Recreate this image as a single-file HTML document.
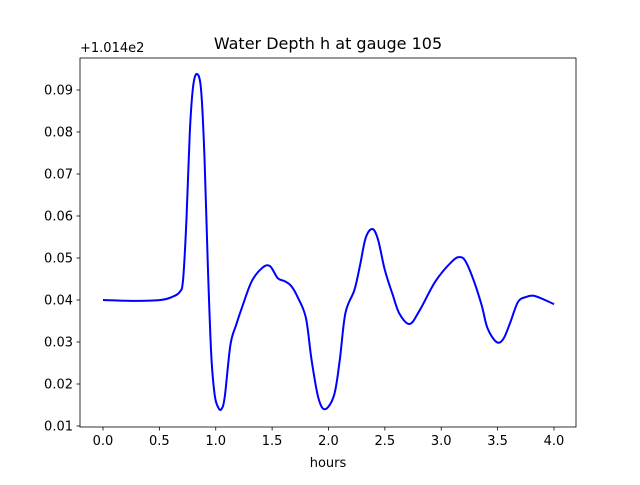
<!DOCTYPE html>
<html><head><meta charset="utf-8"><style>
body{margin:0;background:#fff}
svg text{font-family:"DejaVu Sans","Liberation Sans",sans-serif;font-size:13px;fill:#000}
</style></head><body>
<svg id="chart" width="640" height="480" xmlns="http://www.w3.org/2000/svg">
<rect width="640" height="480" fill="#fff"/>
<text x="328" y="49" text-anchor="middle" style="font-size:16px">Water Depth h at gauge 105</text>
<text x="80" y="52">+1.014e2</text>
<text x="328" y="467" text-anchor="middle">hours</text>
<g id="ticks"></g>
<path id="line" fill="none" stroke="#0000ff" stroke-width="2"/>
<rect x="80" y="58" width="496" height="369" fill="none" stroke="#000" stroke-width="0.8"/>
</svg>
<script>
const xTicks=[0,0.5,1,1.5,2,2.5,3,3.5,4];
const xTickLabels=["0.0","0.5","1.0","1.5","2.0","2.5","3.0","3.5","4.0"];
const yTicks=[0.01,0.02,0.03,0.04,0.05,0.06,0.07,0.08,0.09];
const yTickLabels=["0.01","0.02","0.03","0.04","0.05","0.06","0.07","0.08","0.09"];
const hours=[0,0.28,0.51,0.61,0.68,0.71,0.74,0.77,0.80,0.835,0.87,0.90,0.93,0.96,0.99,1.02,1.05,1.08,1.13,1.18,1.24,1.32,1.41,1.48,1.55,1.61,1.67,1.73,1.80,1.85,1.91,1.97,2.05,2.10,2.15,2.23,2.28,2.33,2.39,2.44,2.50,2.57,2.63,2.72,2.81,2.95,3.10,3.17,3.22,3.29,3.36,3.41,3.49,3.55,3.61,3.68,3.75,3.82,3.92,4.0];
const depth=[0.0400,0.0398,0.0400,0.0407,0.0419,0.0448,0.0590,0.0800,0.0910,0.0938,0.0900,0.0740,0.0480,0.0270,0.0175,0.0145,0.0140,0.0170,0.0293,0.0340,0.0388,0.0445,0.0476,0.0481,0.0452,0.0445,0.0433,0.0405,0.0357,0.0257,0.0167,0.0140,0.0174,0.0257,0.0369,0.0424,0.0483,0.0548,0.0569,0.0543,0.0471,0.0412,0.0367,0.0343,0.0376,0.0445,0.0493,0.0502,0.0490,0.0445,0.0386,0.0333,0.0300,0.0307,0.0345,0.0395,0.0407,0.0410,0.0400,0.0390];
const X=h=>103+h*112.75, Y=v=>426-(v-0.01)*4200;
const g=document.getElementById('ticks'), NS='http://www.w3.org/2000/svg';
xTicks.forEach((t,i)=>{
 const l=document.createElementNS(NS,'line');l.setAttribute('x1',X(t));l.setAttribute('x2',X(t));l.setAttribute('y1',427);l.setAttribute('y2',430.5);l.setAttribute('stroke','#000');l.setAttribute('stroke-width','0.8');
 
 
 g.appendChild(l);
 const tx=document.createElementNS(NS,'text');tx.setAttribute('x',X(t));tx.setAttribute('y',445);tx.setAttribute('text-anchor','middle');tx.textContent=xTickLabels[i];
 
 
 g.appendChild(tx);
});
yTicks.forEach((t,i)=>{
 const l=document.createElementNS(NS,'line');l.setAttribute('x1',76.5);l.setAttribute('x2',80);l.setAttribute('y1',Y(t));l.setAttribute('y2',Y(t));l.setAttribute('stroke','#000');l.setAttribute('stroke-width','0.8');
 
 
 g.appendChild(l);
 const tx=document.createElementNS(NS,'text');tx.setAttribute('x',73);tx.setAttribute('y',Y(t)+4.5);tx.setAttribute('text-anchor','end');tx.textContent=yTickLabels[i];
 
 
 g.appendChild(tx);
});
const pts=hours.map((h,i)=>[X(h),Y(depth[i])]);
let d='M'+pts[0][0]+','+pts[0][1];
for(let i=0;i<pts.length-1;i++){
 const p0=pts[Math.max(0,i-1)],p1=pts[i],p2=pts[i+1],p3=pts[Math.min(pts.length-1,i+2)];
 const c1=[p1[0]+(p2[0]-p0[0])/6,p1[1]+(p2[1]-p0[1])/6],c2=[p2[0]-(p3[0]-p1[0])/6,p2[1]-(p3[1]-p1[1])/6];
 d+=` C${c1[0]},${c1[1]} ${c2[0]},${c2[1]} ${p2[0]},${p2[1]}`;
}
document.getElementById('line').setAttribute('d',d);
</script>
</body></html>
